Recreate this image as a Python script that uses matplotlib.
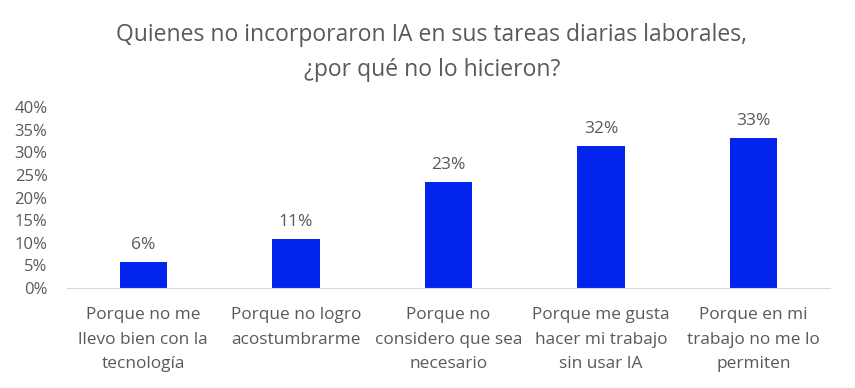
import matplotlib
matplotlib.use("Agg")
import matplotlib.pyplot as plt
from matplotlib.ticker import PercentFormatter

categories = [
    "Porque no me\nllevo bien con la\ntecnología",
    "Porque no logro\nacostumbrarme",
    "Porque no\nconsidero que sea\nnecesario",
    "Porque me gusta\nhacer mi trabajo\nsin usar IA",
    "Porque en mi\ntrabajo no me lo\npermiten",
]
values = [5.7, 10.8, 23.4, 31.4, 33.1]
labels = ["6%", "11%", "23%", "32%", "33%"]
yticks = [0, 5, 10, 15, 20, 25, 30, 35, 40]

plt.rcParams['font.family'] = ['Open Sans', 'DejaVu Sans']
gray = '#595959'

fig = plt.figure(figsize=(8.55, 3.88), dpi=100)
ax = fig.add_axes([67/855, 1-288/388, (830-67)/855, (288-107)/388])

x = range(len(categories))
bars = ax.bar(x, values, width=0.31, color='#0224EC')
for xi, v, lab in zip(x, values, labels):
    ax.text(xi, v + 2.0, lab, ha='center', va='bottom', fontsize=12.5, color=gray)

ax.set_xlim(-0.5, len(categories) - 0.5)
ax.set_ylim(0, 40)
ax.set_yticks(yticks)
ax.yaxis.set_major_formatter(PercentFormatter(decimals=0))
ax.set_xticks(list(x))
ax.set_xticklabels(categories, fontsize=12.4, color=gray, linespacing=1.68)
ax.tick_params(axis='y', length=0, labelsize=12, labelcolor=gray, pad=14)
ax.tick_params(axis='x', length=0, pad=14)
for s in ['top', 'right', 'left']:
    ax.spines[s].set_visible(False)
ax.spines['bottom'].set_color('#D9D9D9')

fig.text(0.505, 1-35/388, "Quienes no incorporaron IA en sus tareas diarias laborales,",
         ha='center', va='center', fontsize=16.5, color=gray)
fig.text(0.505, 1-70/388, "¿por qué no lo hicieron?",
         ha='center', va='center', fontsize=16.5, color=gray)

fig.savefig("out.png", dpi=100)
